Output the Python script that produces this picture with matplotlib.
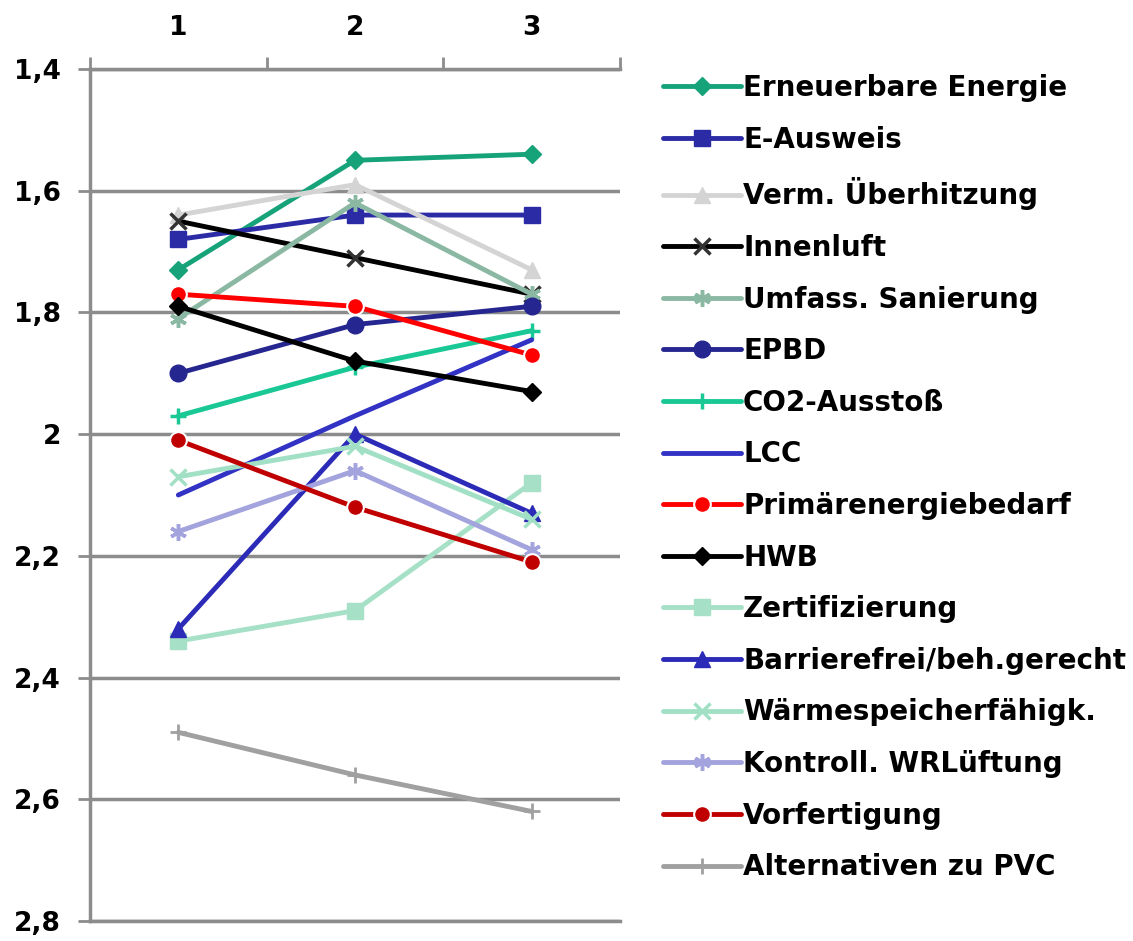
import matplotlib
matplotlib.use("Agg")
import matplotlib.pyplot as plt
import numpy as np

categories = ["1", "2", "3"]
series_names = [
    "Erneuerbare Energie", "E-Ausweis", "Verm. Überhitzung", "Innenluft",
    "Umfass. Sanierung", "EPBD", "CO2-Ausstoß", "LCC", "Primärenergiebedarf",
    "HWB", "Zertifizierung", "Barrierefrei/beh.gerecht", "Wärmespeicherfähigk.",
    "Kontroll. WRLüftung", "Vorfertigung", "Alternativen zu PVC",
]
erneuerbare = [1.73, 1.55, 1.54]
e_ausweis = [1.68, 1.64, 1.64]
ueberhitzung = [1.64, 1.59, 1.73]
innenluft = [1.65, 1.71, 1.77]
sanierung = [1.81, 1.62, 1.77]
epbd = [1.90, 1.82, 1.79]
co2 = [1.97, 1.89, 1.83]
lcc = [2.10, 1.97, 1.845]
primaer = [1.77, 1.79, 1.87]
hwb = [1.79, 1.88, 1.93]
zertifizierung = [2.34, 2.29, 2.08]
barrierefrei = [2.32, 2.00, 2.13]
waermespeicher = [2.07, 2.02, 2.14]
kontroll = [2.16, 2.06, 2.19]
vorfertigung = [2.01, 2.12, 2.21]
pvc = [2.49, 2.56, 2.62]
yticks = [1.4, 1.6, 1.8, 2.0, 2.2, 2.4, 2.6, 2.8]
ytick_labels = ["1,4", "1,6", "1,8", "2", "2,2", "2,4", "2,6", "2,8"]

values = [erneuerbare, e_ausweis, ueberhitzung, innenluft, sanierung, epbd, co2,
          lcc, primaer, hwb, zertifizierung, barrierefrei, waermespeicher,
          kontroll, vorfertigung, pvc]

styles = [
    dict(color="#17A37A", marker="D", mfc="#17A37A", mec="#17A37A", ms=9),
    dict(color="#2B2BA6", marker="s", mfc="#2B2BA6", mec="#2B2BA6", ms=11),
    dict(color="#D4D4D4", marker="^", mfc="#D4D4D4", mec="#D4D4D4", ms=12),
    dict(color="#000000", marker="x", mfc="#333333", mec="#333333", ms=11, mew=2.5),
    dict(color="#8BB8A2", marker=(6, 2, 0), mfc="#8BB8A2", mec="#8BB8A2", ms=12, mew=2.5),
    dict(color="#262690", marker="o", mfc="#262690", mec="#262690", ms=12),
    dict(color="#19C894", marker="+", mfc="#19C894", mec="#19C894", ms=12, mew=2.5),
    dict(color="#3232C4", marker=None),
    dict(color="#FF0000", marker="o", mfc="#FF0000", mec="white", ms=12, mew=1.5),
    dict(color="#000000", marker="D", mfc="#000000", mec="#000000", ms=9),
    dict(color="#A6E0C6", marker="s", mfc="#A6E0C6", mec="#A6E0C6", ms=11),
    dict(color="#2B2BB8", marker="^", mfc="#2B2BB8", mec="#2B2BB8", ms=12),
    dict(color="#A2E0C5", marker="x", mfc="#A2E0C5", mec="#A2E0C5", ms=11, mew=2.5),
    dict(color="#A3A3DD", marker=(6, 2, 0), mfc="#A3A3DD", mec="#A3A3DD", ms=12, mew=2.5),
    dict(color="#C00000", marker="o", mfc="#C00000", mec="white", ms=12, mew=1.5),
    dict(color="#A0A0A0", marker="+", mfc="#A0A0A0", mec="#A0A0A0", ms=12, mew=2),
]

plt.rcParams["font.family"] = ["DejaVu Sans"]
plt.rcParams["font.weight"] = "bold"

fig = plt.figure(figsize=(11.33, 9.41), dpi=100)
ax = fig.add_axes([90 / 1133, 1 - 921 / 941, (620 - 90) / 1133, (921 - 69) / 941])

x = np.arange(1, len(categories) + 1)
for name, vals, st in zip(series_names, values, styles):
    st = dict(st)
    color = st.pop("color")
    ax.plot(x, vals, color=color, lw=3.5, label=name, solid_capstyle="round", **st)

ax.set_xlim(0.5, 3.5)
ax.set_ylim(2.8, 1.4)
ax.set_yticks(yticks)
ax.set_yticklabels(ytick_labels)
ax.yaxis.grid(True, color="#8C8C8C", lw=2.5)
ax.set_axisbelow(True)

ax.xaxis.tick_top()
ax.set_xticks(x)
ax.set_xticklabels(categories)
ax.set_xticks([0.5, 1.5, 2.5, 3.5], minor=True)
ax.tick_params(axis="x", which="major", length=0, pad=20, labelsize=19)
ax.tick_params(axis="x", which="minor", length=9, width=2, color="#8C8C8C", direction="out")
ax.tick_params(axis="y", length=9, width=2, color="#8C8C8C", labelsize=19, pad=12)

ax.spines["right"].set_visible(False)
for s in ["left", "top", "bottom"]:
    ax.spines[s].set_color("#8C8C8C")
    ax.spines[s].set_linewidth(2.5)

leg = fig.legend(loc="upper left", bbox_to_anchor=(652 / 1133, 1 - 63 / 941),
                 frameon=False, fontsize=20, handlelength=2.8, handletextpad=0.08,
                 labelspacing=0.85, borderaxespad=0)

fig.savefig("out.png", dpi=100)
